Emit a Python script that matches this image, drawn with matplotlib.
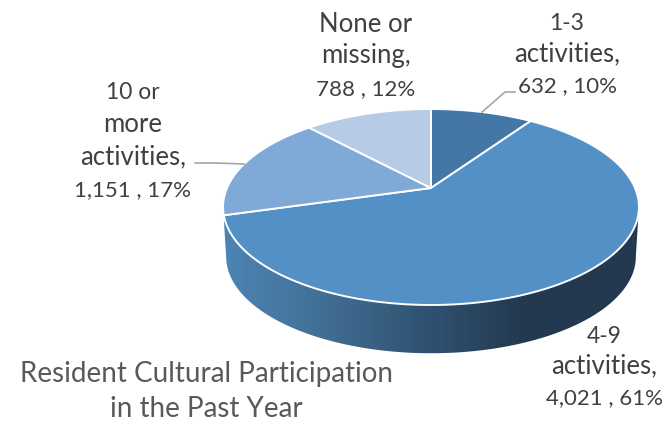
import numpy as np
import matplotlib
matplotlib.use('Agg')
from matplotlib import pyplot as plt
from matplotlib.patches import Polygon
from matplotlib.colors import LinearSegmentedColormap

plt.rcParams['font.family'] = ['Lato', 'DejaVu Sans']

# data, clockwise from 12 o'clock
categories = [['1-3', 'activities,'], ['4-9', 'activities,'],
              ['10 or', 'more', 'activities,'], ['None or', 'missing,']]
counts = [632, 4021, 1151, 788]
count_labels = ['632', '4,021', '1,151', '788']
percents = ['10%', '61%', '17%', '12%']
colors = ['#4577a6', '#5290c6', '#7faad8', '#b5cbe6']
title_lines = ['Resident Cultural Participation', 'in the Past Year']

# pie layout in pixels, k is the perspective of the tilted disc
cx, cy = 431, 188
rx, ry, k = 204, 94.3, 0.194
depth = 50
bottom_scale = 0.985


def project(deg, scale=1.0, dy=0.0):
    t = np.radians(deg)
    u, v = np.sin(t), np.cos(t)
    w = 1 + k * v
    return cx + scale * rx * u / w, cy + dy - scale * ry * v / w


fig = plt.figure(figsize=(6.66, 4.21), dpi=100)
ax = fig.add_axes([0, 0, 1, 1])
ax.set_xlim(0, 666)
ax.set_ylim(421, 0)
ax.axis('off')

edges = np.concatenate([[0], np.cumsum(counts)]) / np.sum(counts) * 360

# side wall of the front slice, with a left to right gradient
left_end = np.degrees(np.arccos(-k))
right_end = 360 - left_end
arc = np.linspace(left_end, right_end, 200)
tx, ty = project(arc)
bx, by = project(arc, bottom_scale, depth)
side = Polygon(np.column_stack([np.r_[tx, bx[::-1]], np.r_[ty, by[::-1]]]),
               closed=True, fc='none', ec='none')
ax.add_patch(side)
side_cmap = LinearSegmentedColormap.from_list(
    'side', [(0, '#4d84b5'), (0.2, '#447399'), (0.5, '#2f5170'), (0.72, '#23394f'), (1, '#23394f')])
grad = ax.imshow(np.linspace(0, 1, 256)[None, :], cmap=side_cmap, aspect='auto',
                 extent=(224, 639, 360, 200), zorder=1)
grad.set_clip_path(side)
ax.set_xlim(0, 666)
ax.set_ylim(421, 0)

# top face
for i in range(len(counts)):
    a = np.linspace(edges[i], edges[i + 1], 120)
    x, y = project(a)
    pts = np.column_stack([np.r_[cx, x], np.r_[cy, y]])
    ax.add_patch(Polygon(pts, closed=True, fc=colors[i], ec='white', lw=1.4,
                         joinstyle='round', zorder=2))

# leader lines from the middle of the slice rim
x0, y0 = project((edges[0] + edges[1]) / 2)
ax.plot([x0, 505, 515], [y0, 92, 92], color='#a6a6a6', lw=1.2, zorder=3)
x2, y2 = project((edges[2] + edges[3]) / 2)
ax.plot([x2, 215, 195], [y2, 163, 163], color='#a6a6a6', lw=1.2, zorder=3)

# data labels, baseline of the first line and line pitch
label_x = [567, 604, 133, 366]
label_y = [30, 343, 99, 32]
label_step = [31, 30.5, 32.5, 31.5]
for i in range(len(counts)):
    y = label_y[i]
    for line in categories[i]:
        # old style digits in the original run narrower than the letters
        size = 16.5 if line[0].isdigit() else 18.5
        ax.text(label_x[i], y, line, ha='center', va='baseline',
                fontsize=size, color='#404040', zorder=4)
        y += label_step[i]
    ax.text(label_x[i], y, count_labels[i] + ' , ' + percents[i], ha='center', va='baseline',
            fontsize=16, color='#404040', zorder=4)

ax.text(206.5, 382, title_lines[0], ha='center', va='baseline', fontsize=20, color='#595959', zorder=4)
ax.text(206.5, 417, title_lines[1], ha='center', va='baseline', fontsize=20, color='#595959', zorder=4)

plt.savefig('out.png', dpi=100)
